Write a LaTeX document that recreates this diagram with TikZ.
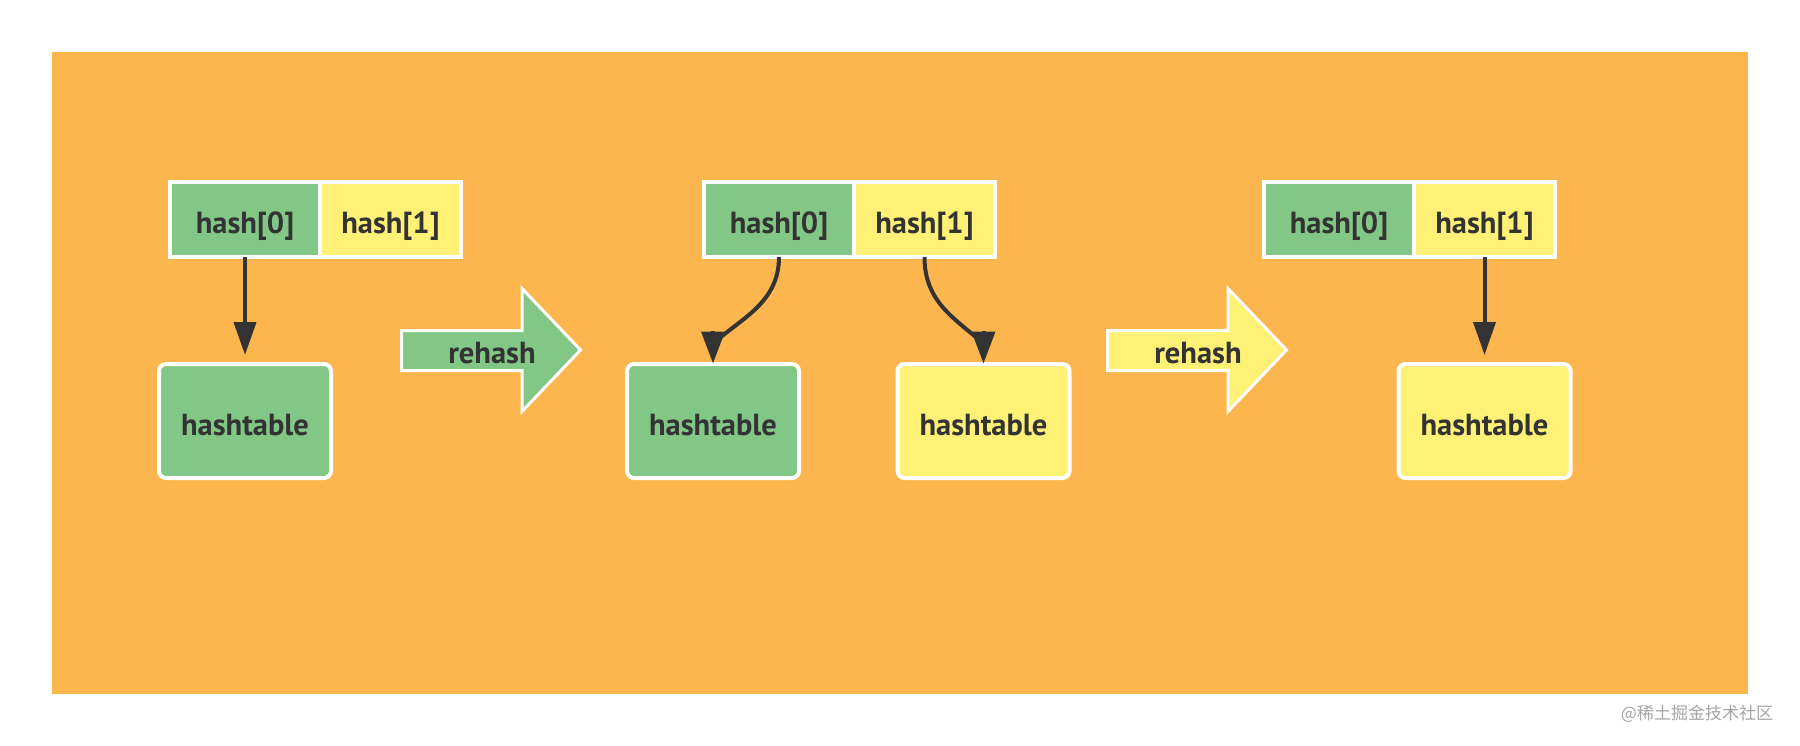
\documentclass[tikz,border=0pt]{standalone}
\usepackage{fontspec}
\setmainfont{PT Sans}
\newfontfamily\cjkfont{Noto Sans CJK SC}
\usetikzlibrary{arrows.meta}
\definecolor{bgorange}{RGB}{253,182,77}
\definecolor{cgreen}{RGB}{130,199,133}
\definecolor{cyellow}{RGB}{255,241,118}
\definecolor{ink}{RGB}{51,51,51}
\definecolor{wmgray}{RGB}{165,165,165}
\begin{document}
\begin{tikzpicture}[x=1pt,y=-1pt,
  txt/.style={font=\fontsize{30.5}{34}\selectfont\bfseries, text=ink, text height=29pt, text depth=0pt},
  cell/.style={txt, draw=white, line width=4pt, inner sep=0pt, outer sep=0pt, minimum height=75pt},
  gcell/.style={cell, fill=cgreen, minimum width=150pt},
  ycell/.style={cell, fill=cyellow, minimum width=141pt},
  tbox/.style={txt, draw=white, line width=4pt, rounded corners=7pt, minimum width=172pt, minimum height=114pt, inner sep=0pt, outer sep=0pt},
  wire/.style={draw=ink, line width=4pt},
  conn/.style={wire, -{Triangle[length=33pt,width=22pt]}, shorten >=9pt},
  ctip/.style={wire, -{Triangle[length=32pt,width=23pt]}, shorten >=0.5pt},
  rarrow/.style={draw=white, line width=3pt, line join=miter}]
\fill[white] (0,0) rectangle (1800,746);
\useasboundingbox (0,0) rectangle (1800,746);
\fill[bgorange] (52,52) rectangle (1748,694);

% panel 1
\node[gcell] (h0a) at (245,219.5) {hash[0]};
\node[ycell] (h1a) at (390.5,219.5) {hash[1]};
\node[tbox, fill=cgreen] (t1) at (245,421) {hashtable};
\draw[conn] (h0a.south) -- (t1.north);

% rehash arrow 1
\draw[rarrow, fill=cgreen] (401.5,330.5) -- (522,330.5) -- (522,288.5) -- (580.5,350) -- (522,411.5) -- (522,370.5) -- (401.5,370.5) -- cycle;
\node[txt] (r1) at (492,349) {rehash};

% panel 2
\node[gcell] (h0b) at (779,219.5) {hash[0]};
\node[ycell] (h1b) at (924.5,219.5) {hash[1]};
\node[tbox, fill=cgreen] (t2) at (713,421) {hashtable};
\node[tbox, fill=cyellow] (t3) at (983.5,421) {hashtable};
\coordinate (b2) at ([yshift=33pt]t2.north);
\coordinate (b3) at ([yshift=33pt]t3.north);
\coordinate (e2) at ([xshift=2pt,yshift=22pt]t2.north);
\coordinate (e3) at ([xshift=-2pt,yshift=22pt]t3.north);
\draw[wire] (h0b.south) .. controls +(0,45) and +(27,-24) .. (e2);
\draw[ctip] (b2) -- (t2.north);
\draw[wire] (h1b.south) .. controls +(0,45) and +(-27,-24) .. (e3);
\draw[ctip] (b3) -- (t3.north);

% rehash arrow 2
\draw[rarrow, fill=cyellow] (1107.5,330.5) -- (1228,330.5) -- (1228,288.5) -- (1286.5,350) -- (1228,411.5) -- (1228,370.5) -- (1107.5,370.5) -- cycle;
\node[txt] (r2) at (1198,349) {rehash};

% panel 3
\node[gcell] (h0c) at (1339,219.5) {hash[0]};
\node[ycell] (h1c) at (1484.5,219.5) {hash[1]};
\node[tbox, fill=cyellow] (t4) at (1484.5,421) {hashtable};
\draw[conn] (h1c.south) -- (t4.north);

% watermark
\node[font=\cjkfont\fontsize{17}{20}\selectfont, text=wmgray] (wm) at (1697,714) {@稀土掘金技术社区};
\end{tikzpicture}
\end{document}
